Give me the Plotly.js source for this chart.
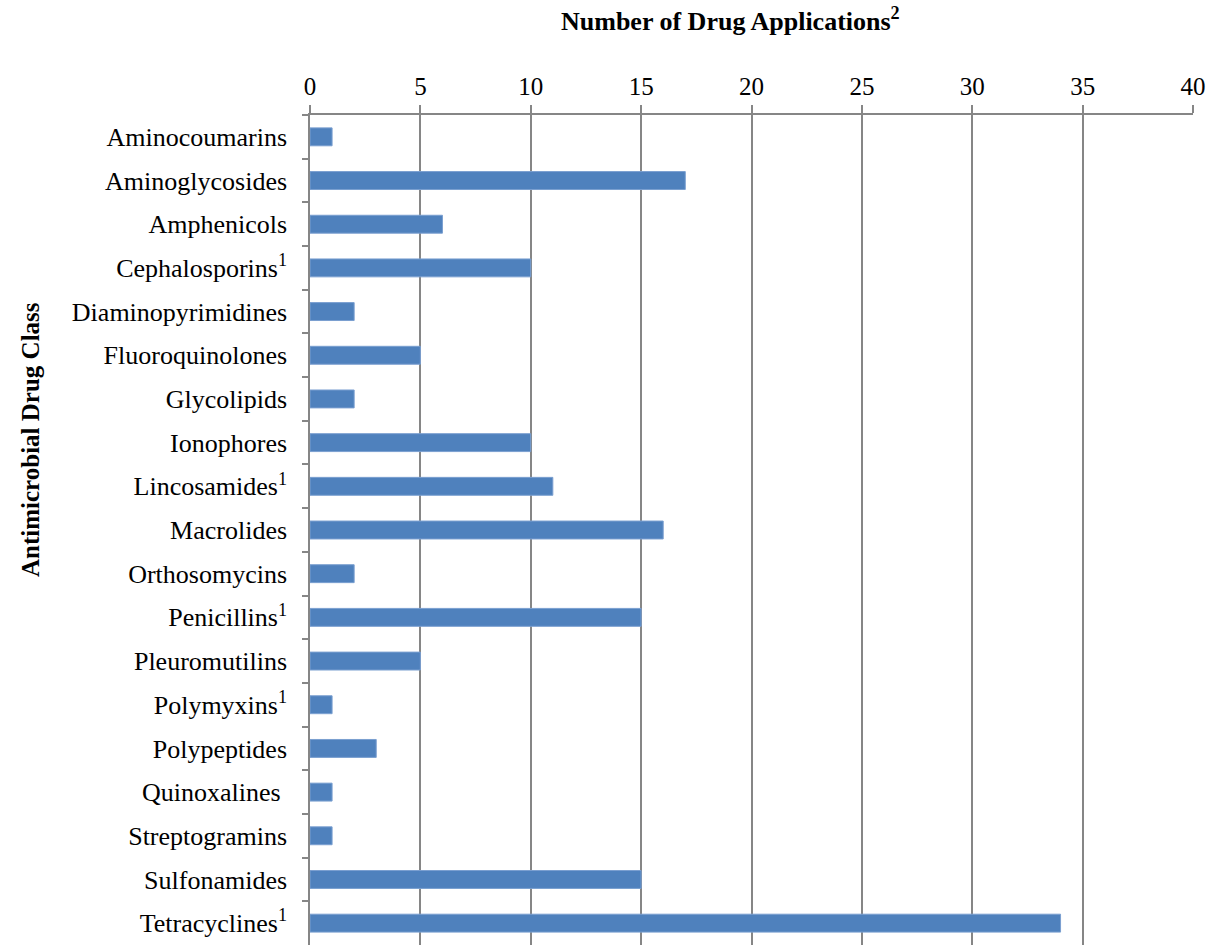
<!DOCTYPE html>
<html>
<head>
<meta charset="utf-8">
<script src="https://cdn.plot.ly/plotly-3.0.1.min.js"></script>
<style>html,body{margin:0;padding:0;background:#fff;}#chart{width:1215px;height:945px;}</style>
</head>
<body>
<div id="chart"></div>
<script>
const categories = ["Aminocoumarins","Aminoglycosides","Amphenicols","Cephalosporins<sup>1</sup>","Diaminopyrimidines","Fluoroquinolones","Glycolipids","Ionophores","Lincosamides<sup>1</sup>","Macrolides","Orthosomycins","Penicillins<sup>1</sup>","Pleuromutilins","Polymyxins<sup>1</sup>","Polypeptides","Quinoxalines\u00a0","Streptogramins","Sulfonamides","Tetracyclines<sup>1</sup>"];
const applications = [1,17,6,10,2,5,2,10,11,16,2,15,5,1,3,1,1,15,34];
const xTicks = [0,5,10,15,20,25,30,35,40];

const font = "'Liberation Serif','Times New Roman',serif";
const gray = "#868686";

Plotly.newPlot('chart', [{
  type: 'bar', orientation: 'h',
  y: categories, x: applications,
  marker: {color: '#4F81BD', line: {color: '#7a9fd0', width: 1}},
  hoverinfo: 'x+y'
}], {
  width: 1215, height: 945,
  margin: {l: 310, r: 22, t: 115, b: 0},
  paper_bgcolor: '#fff', plot_bgcolor: '#fff',
  bargap: 0.59,
  font: {family: font, size: 26, color: '#000'},
  showlegend: false,
  xaxis: {
    side: 'top', range: [0, 40], tickvals: xTicks, ticktext: xTicks.map(String),
    showgrid: true, gridcolor: gray, gridwidth: 1.5,
    showline: true, linecolor: gray, linewidth: 1.5,
    ticks: 'outside', ticklen: 8, tickcolor: gray, tickwidth: 1.5,
    zeroline: false, tickfont: {family: font, size: 25}
  },
  yaxis: {
    type: 'category', categoryorder: 'array', categoryarray: categories,
    autorange: 'reversed',
    showgrid: false, showline: true, linecolor: gray, linewidth: 1.5,
    ticks: 'outside', tickson: 'boundaries', ticklen: 6, tickcolor: gray, tickwidth: 1.5,
    ticklabelstandoff: 16,
    zeroline: false, tickfont: {family: font, size: 26}
  },
  annotations: [
    {text: '<b>Number of Drug Applications<sup>2</sup></b>', xref: 'paper', yref: 'paper',
     x: 0.4757, y: 1 + (115-20)/830, xanchor: 'center', yanchor: 'middle', showarrow: false,
     font: {family: font, size: 26, color: '#000'}},
    {text: '<b>Antimicrobial Drug Class</b>', xref: 'paper', yref: 'paper', textangle: -90,
     x: (30-310)/883, y: 1 - (440-115)/830, xanchor: 'center', yanchor: 'middle', showarrow: false,
     font: {family: font, size: 25, color: '#000'}}
  ]
}, {displayModeBar: false});
</script>
</body>
</html>
